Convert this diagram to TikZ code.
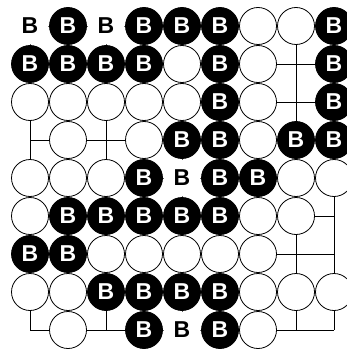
\documentclass[tikz,border=0pt]{standalone}
\usepackage{fontspec}
\setsansfont{Liberation Sans}
\usepackage{tikz}
\usetikzlibrary{positioning}
\usepackage{xcolor}
\definecolor{gonavy}{RGB}{0,0,0}
\tikzset{
    stone/.style={
        circle,inner sep=0pt,minimum size=37pt,line width=0.8pt,
        font=\fontsize{23}{23}\selectfont\sffamily\bfseries
    },
    blackstone/.style={stone,draw=gonavy,fill=gonavy,text=white},
    whitestone/.style={stone,draw=gonavy,fill=white},
    marklabel/.style={stone,fill=white,text=gonavy},
    gridline/.style={line width=0.8pt,draw=gonavy}
}
\begin{document}
\begin{tikzpicture}[x=38pt,y=-38pt]

\clip (0.2105,0.3158) rectangle (9.3421,9.5263);
\fill[white] (0.2105,0.3158) rectangle (9.3421,9.5263);

% board
\foreach \i in {1,...,9}{
\draw[gridline] (1,\i) -- (9,\i);
\draw[gridline] (\i,1) -- (\i,9);
}

% black stones
\foreach \c/\r in {2/1,4/1,5/1,6/1,9/1,
1/2,2/2,3/2,4/2,6/2,9/2,
6/3,9/3,
5/4,6/4,8/4,9/4,
4/5,6/5,7/5,
2/6,3/6,4/6,5/6,6/6,
1/7,2/7,
3/8,4/8,5/8,6/8,
4/9,6/9}
\node[blackstone] (b\c\r) at (\c,\r){B};

% white stones
\foreach \c/\r in {7/1,8/1,
5/2,7/2,
1/3,2/3,3/3,4/3,5/3,7/3,
2/4,4/4,7/4,
1/5,2/5,3/5,8/5,9/5,
1/6,7/6,8/6,
3/7,4/7,5/7,6/7,7/7,
1/8,2/8,7/8,8/8,9/8,
2/9,7/9}
\node[whitestone] (w\c\r) at (\c,\r){};

% marked points
\foreach \c/\r in {1/1,3/1,5/5,5/9}
\node[marklabel] (m\c\r) at (\c,\r){B};

\end{tikzpicture}
\end{document}
